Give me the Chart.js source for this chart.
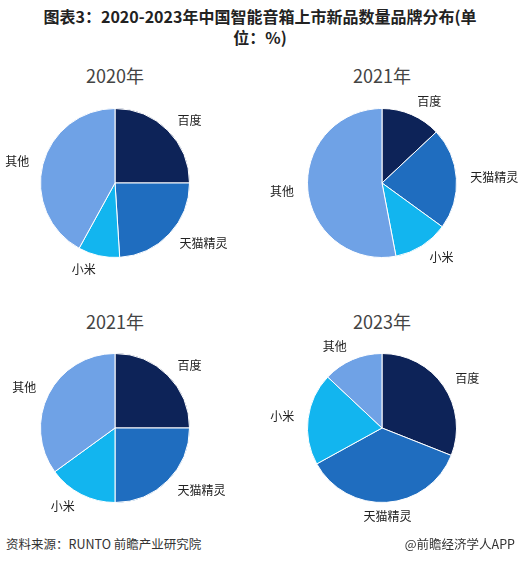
<!DOCTYPE html>
<html><head><meta charset="utf-8">
<script src="https://cdn.jsdelivr.net/npm/chart.js"></script>
<style>
body{margin:0;width:521px;height:562px;background:#fff;font-family:"Noto Sans CJK SC","Noto Sans",sans-serif;position:relative;overflow:hidden}
.t{position:absolute;left:30px;top:6px;width:460px;text-align:center;font-weight:bold;font-size:16px;line-height:21px;color:#222;word-break:break-all}
.yr{position:absolute;font-size:18px;color:#444;width:230px;text-align:center}
canvas{position:absolute}
.f{position:absolute;top:534px;font-size:12.5px;color:#333}
</style></head><body>
<div class="t">图表3：2020-2023年中国智能音箱上市新品数量品牌分布(单位：%)</div>
<div class="yr" style="left:0;top:62px">2020年</div>
<div class="yr" style="left:267px;top:62px">2021年</div>
<div class="yr" style="left:0;top:308px">2021年</div>
<div class="yr" style="left:267px;top:308px">2023年</div>
<canvas id="c0" style="left:-25px;top:83px"></canvas>
<canvas id="c1" style="left:242px;top:83px"></canvas>
<canvas id="c2" style="left:-25px;top:328px"></canvas>
<canvas id="c3" style="left:242px;top:328px"></canvas>
<div class="f" style="left:6px">资料来源：RUNTO 前瞻产业研究院</div>
<div class="f" style="right:6px">@前瞻经济学人APP</div>
<script>
const brands = ['百度', '天猫精灵', '小米', '其他'];
const data2020 = [25, 24, 9, 42];
const data2021a = [13, 22, 12, 53];
const data2021b = [25, 25, 15, 35];
const data2023 = [31, 36, 20, 13];
const colors = ['#0d2358', '#1f6dbf', '#12b5ef', '#6fa2e6'];

const outLabels = {
    id: 'outLabels',
    afterDraw(chart) {
        const ctx = chart.ctx;
        const meta = chart.getDatasetMeta(0);
        ctx.save();
        ctx.font = '12px "Noto Sans CJK SC"';
        ctx.fillStyle = '#222';
        ctx.textBaseline = 'middle';
        meta.data.forEach((arc, i) => {
            const mid = (arc.startAngle + arc.endAngle) / 2;
            const r = arc.outerRadius + 14;
            const x = arc.x + Math.cos(mid) * r;
            const y = arc.y + Math.sin(mid) * r;
            ctx.textAlign = Math.cos(mid) > 0.2 ? 'left' : (Math.cos(mid) < -0.2 ? 'right' : 'center');
            ctx.fillText(chart.data.labels[i], x, y);
        });
        ctx.restore();
    }
};

function pie(id, values) {
    const el = document.getElementById(id);
    el.width = 280; el.height = 200;
    el.style.width = '280px'; el.style.height = '200px';
    new Chart(el, {
        type: 'pie',
        data: { labels: brands, datasets: [{ data: values, backgroundColor: colors, borderColor: '#fff', borderWidth: 1 }] },
        options: {
            responsive: false, animation: false,
            layout: { padding: 25 },
            plugins: { legend: { display: false }, tooltip: { enabled: false } }
        },
        plugins: [outLabels]
    });
}
pie('c0', data2020);
pie('c1', data2021a);
pie('c2', data2021b);
pie('c3', data2023);
</script>
</body></html>
